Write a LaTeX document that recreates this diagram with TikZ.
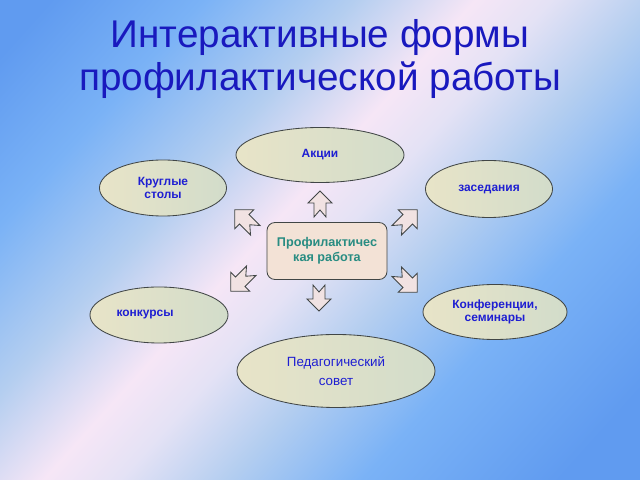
\documentclass[tikz,border=0pt]{standalone}
\usepackage{fontspec}
\setmainfont{Liberation Sans}
\usetikzlibrary{shapes.geometric}
\definecolor{titleblue}{RGB}{25,25,190}
\definecolor{textblue}{RGB}{30,30,210}
\definecolor{tealtext}{RGB}{40,140,130}
\definecolor{ovalleft}{RGB}{232,228,200}
\definecolor{ovalright}{RGB}{210,220,202}
\definecolor{boxfill}{RGB}{243,226,214}
\definecolor{arrowfill}{RGB}{241,226,226}
\definecolor{edgegray}{RGB}{65,70,70}
\definecolor{bgdeep}{RGB}{96,155,240}
\definecolor{bgblue}{RGB}{122,178,246}
\definecolor{bgsoft}{RGB}{180,206,240}
\definecolor{bglav}{RGB}{228,226,245}
\definecolor{bgpink}{RGB}{246,230,246}
\pgfdeclareverticalshading{bgshade}{100bp}{color(0bp)=(bgdeep); color(20bp)=(bgdeep); color(33bp)=(bgblue); color(42bp)=(bgsoft); color(49bp)=(bglav); color(54bp)=(bgpink); color(62bp)=(bgsoft); color(72bp)=(bgblue); color(82bp)=(bgdeep); color(100bp)=(bgdeep)}

\begin{document}
\begin{tikzpicture}[x=0.025cm,y=0.025cm,
  oval/.style={ellipse,draw=edgegray,line width=0.6pt,left color=ovalleft,right color=ovalright,inner sep=0pt,text=textblue,font=\fontsize{8.5}{9.5}\selectfont\bfseries,align=center},
  notcharrow/.pic={\draw[draw=edgegray,line width=0.6pt,fill=arrowfill] (0,13)--(12,1)--(6,1)--(6,-13)--(0,-6)--(-6,-13)--(-6,1)--(-12,1)--cycle;}]
\shade[shading=bgshade,shading angle=48] (0,0) rectangle (640,480);
\useasboundingbox (0,0) rectangle (640,480);
\node[anchor=north,inner sep=0pt,text=titleblue,font=\fontsize{27.5}{31}\selectfont,align=center] (title) at (320,461) {Интерактивные формы\\профилактической работы};
\node[draw=edgegray,line width=0.6pt,fill=boxfill,rounded corners=0.2cm,minimum width=3cm,minimum height=1.425cm,text=tealtext,font=\fontsize{9}{10.5}\selectfont\bfseries,align=center] (prevention) at (327,229) {Профилактичес\\кая работа};
\node[oval,minimum width=4.2cm,minimum height=1.375cm] (actions) at (320,325) {Акции};
\node[oval,minimum width=3.175cm,minimum height=1.4cm] (roundtables) at (163,292) {Круглые\\столы};
\node[oval,minimum width=3.175cm,minimum height=1.425cm] (meetings) at (489,291) {заседания};
\node[oval,minimum width=3.45cm,minimum height=1.4cm] (contests) at (159,165) {конкурсы\hspace*{0.7cm}};
\node[oval,minimum width=3.6cm,minimum height=1.375cm] (conferences) at (495,168) {Конференции,\\семинары};
\node[oval,minimum width=4.95cm,minimum height=1.825cm,font=\fontsize{9.5}{13.5}\selectfont] (council) at (336,109) {Педагогический\\совет};
\pic at (320,276) {notcharrow};
\pic[rotate=45,scale=1.12] at (245,260) {notcharrow};
\pic[rotate=-45,scale=1.12] at (407,260) {notcharrow};
\pic[rotate=135,scale=1.12] at (241,199) {notcharrow};
\pic[rotate=-135,scale=1.12] at (407,198) {notcharrow};
\pic[rotate=180] at (319,182) {notcharrow};
\end{tikzpicture}
\end{document}
